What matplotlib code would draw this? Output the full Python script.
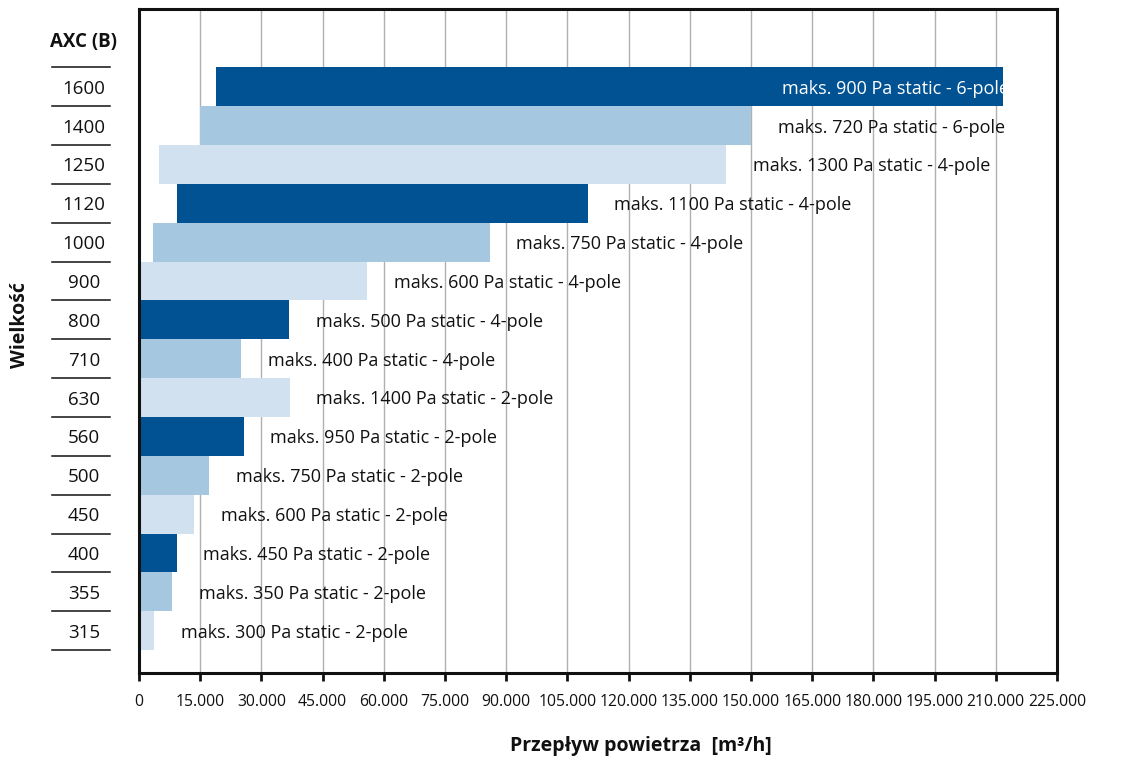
import matplotlib.pyplot as plt
from matplotlib.ticker import FuncFormatter
import matplotlib.transforms as mtransforms

plt.rcParams['font.family'] = ['Open Sans', 'Noto Sans', 'DejaVu Sans']

# AXC (B) sizes, bottom to top
sizes = ["315", "355", "400", "450", "500", "560", "630", "710",
         "800", "900", "1000", "1120", "1250", "1400", "1600"]
# air flow range [m3/h]
flow_min = [0, 0, 0, 0, 0, 0, 0, 0, 0, 0, 3400, 9300, 4900, 15000, 18900]
flow_max = [3700, 8100, 9300, 13500, 17200, 25700, 37000, 25000,
            36800, 55900, 86000, 110000, 143900, 150000, 211800]
labels = [
    "maks. 300 Pa static - 2-pole",
    "maks. 350 Pa static - 2-pole",
    "maks. 450 Pa static - 2-pole",
    "maks. 600 Pa static - 2-pole",
    "maks. 750 Pa static - 2-pole",
    "maks. 950 Pa static - 2-pole",
    "maks. 1400 Pa static - 2-pole",
    "maks. 400 Pa static - 4-pole",
    "maks. 500 Pa static - 4-pole",
    "maks. 600 Pa static - 4-pole",
    "maks. 750 Pa static - 4-pole",
    "maks. 1100 Pa static - 4-pole",
    "maks. 1300 Pa static - 4-pole",
    "maks. 720 Pa static - 6-pole",
    "maks. 900 Pa static - 6-pole",
]

light, medium, dark = "#D2E1F0", "#A5C8E0", "#005293"
colors = [[light, medium, dark][i % 3] for i in range(len(sizes))]

fig = plt.figure(figsize=(11.31, 7.6), dpi=100)
ax = fig.add_axes([139 / 1131, 87 / 760, 918 / 1131, 664 / 760])

y = list(range(len(sizes)))
widths = [b - a for a, b in zip(flow_min, flow_max)]
ax.barh(y, widths, left=flow_min, height=1.0, color=colors, zorder=2)

# data labels
for i, (end, txt) in enumerate(zip(flow_max, labels)):
    if i == len(sizes) - 1:
        ax.text(end + 1500, i - 0.05, txt, ha="right", va="center", fontsize=13,
                color="white", zorder=3, clip_on=True)
    else:
        ax.text(end + 6500, i - 0.05, txt, ha="left", va="center", fontsize=13,
                color="#111111", zorder=3)

ax.set_xlim(0, 225000)
ax.set_ylim(-1.09, 16.0)
ax.set_xticks(range(0, 225001, 15000))
ax.xaxis.set_major_formatter(FuncFormatter(lambda v, p: f"{int(v):,}".replace(",", ".")))
ax.tick_params(axis="x", direction="out", length=6, width=2, labelsize=11.3,
               pad=9, colors="#111111")
ax.grid(axis="x", color="#b0b0b0", linewidth=1.0, zorder=0)
ax.set_axisbelow(True)

ax.set_yticks(y)
ax.set_yticklabels(sizes, fontsize=13.5, color="#111111")
ax.tick_params(axis="y", length=0, pad=39.6)
for t in ax.get_yticklabels():
    t.set_ha("center")

for s in ax.spines.values():
    s.set_linewidth(2.2)
    s.set_color("#111111")

# table-like separators next to the size labels
trans = mtransforms.blended_transform_factory(ax.transAxes, ax.transData)
for i in range(len(sizes) + 1):
    ax.plot([-0.095, -0.032], [i - 0.5, i - 0.5], transform=trans,
            color="#111111", linewidth=1.1, clip_on=False)
ax.text(-0.061, 15.15, "AXC (B)", transform=trans, ha="center", va="center",
        fontsize=13.5, fontweight="bold", color="#111111")

fig.text(0.018, 1 - 325 / 760, "Wielkość", rotation=90, ha="center", va="center",
         fontsize=14, fontweight="bold", color="#111111")
fig.text(641 / 1131, 1 - 746 / 760, "Przepływ powietrza  [m³/h]", ha="center",
         va="center", fontsize=14, fontweight="bold", color="#111111")

fig.savefig("out.png", dpi=100)
